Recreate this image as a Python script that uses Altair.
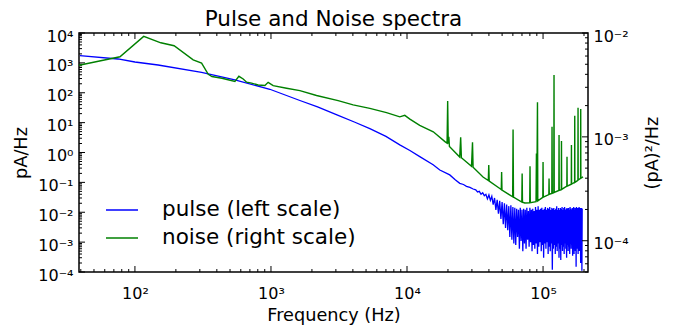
import altair as alt
import pandas as pd

FONT = "DejaVu Sans"
W, H = 509, 239

# ---------------- data ----------------
# pulse spectrum (left scale, pA/Hz): smooth part
pulse_freq_smooth = [39.4, 75, 100, 148, 309, 543, 981, 1631, 2200, 3118, 4100, 5330,
                     7000, 8850, 10500, 12410, 15560, 17420, 20620, 22500, 24420,
                     26000, 27360, 29000, 30620]
pulse_val_smooth = [1740, 1350, 1070, 850, 485, 268, 131, 55, 33.5, 17.5, 10.5, 6.3,
                    3.45, 1.8, 1.17, 0.73, 0.39, 0.26, 0.178, 0.125, 0.093,
                    0.085, 0.074, 0.068, 0.060]
# pulse spectrum: noisy high-frequency part (frequencies in kHz)
pulse_khz_noisy = [32, 33, 34, 35, 36, 37, 38, 39, 40, 41,
                   42, 43, 44, 45, 46, 47, 48, 49, 50, 51,
                   52, 53, 54, 55, 56, 57, 58, 59, 60, 61,
                   62, 63, 64, 65, 66, 67, 68, 69, 70, 71,
                   72, 73, 74, 75, 76, 77, 78, 79, 80, 81,
                   82, 83, 84, 85, 86, 87, 88, 89, 90, 91,
                   92, 93, 94, 95, 96, 97, 98, 99, 100, 101,
                   102, 103, 104, 105, 106, 107, 108, 109, 110, 111,
                   112, 113, 114, 115, 116, 117, 118, 119, 120, 121,
                   122, 123, 124, 125, 126, 127, 128, 129, 130, 131,
                   132, 133, 134, 135, 136, 137, 138, 139, 140, 141,
                   142, 143, 144, 145, 146, 147, 148, 149, 150, 151,
                   152, 153, 154, 155, 156, 157, 158, 159, 160, 161,
                   162, 163, 164, 165, 166, 167, 168, 169, 170, 171,
                   172, 173, 174, 175, 176, 177, 178, 179, 180, 181,
                   182, 183, 184, 185, 186, 187, 188, 189, 190, 191,
                   192, 193, 194]
pulse_val_noisy = [0.056, 0.048, 0.050, 0.040, 0.045, 0.036, 0.040, 0.028, 0.038, 0.025,
                   0.034, 0.018, 0.030, 0.012, 0.026, 0.009, 0.024, 0.006, 0.022, 0.004,
                   0.020, 0.003, 0.018, 0.0025, 0.016, 0.0015, 0.017, 0.0012, 0.015, 0.0009,
                   0.014, 0.0008, 0.013, 0.0015, 0.012, 0.0006, 0.014, 0.0011, 0.012, 0.0005,
                   0.013, 0.0009, 0.012, 0.0006, 0.014, 0.0012, 0.011, 0.0007, 0.014, 0.0010,
                   0.012, 0.0005, 0.013, 0.0008, 0.011, 0.0006, 0.015, 0.0009, 0.012, 0.0004,
                   0.016, 0.0007, 0.012, 0.0010, 0.013, 0.0005, 0.014, 0.0008, 0.012, 0.0003,
                   0.013, 0.0009, 0.015, 0.0006, 0.012, 0.0010, 0.014, 0.0004, 0.013, 0.0007,
                   0.015, 0.0005, 0.012, 0.0009, 0.014, 0.00012, 0.013, 0.0006, 0.014, 0.0008,
                   0.012, 0.0004, 0.013, 0.0007, 0.016, 0.0005, 0.012, 0.0009, 0.014, 0.0003,
                   0.012, 0.0006, 0.014, 0.00025, 0.013, 0.0008, 0.015, 0.0005, 0.012, 0.0007,
                   0.014, 0.0004, 0.015, 0.0009, 0.012, 0.0006, 0.013, 0.0003, 0.014, 0.0008,
                   0.013, 0.0005, 0.014, 0.0007, 0.012, 0.0004, 0.015, 0.0009, 0.013, 0.0006,
                   0.012, 0.0008, 0.014, 0.00035, 0.013, 0.0006, 0.015, 0.0004, 0.012, 0.0007,
                   0.014, 0.0005, 0.013, 0.00015, 0.015, 0.0006, 0.012, 0.0009, 0.014, 0.0004,
                   0.013, 0.0007, 0.015, 0.0005, 0.012, 0.0008, 0.014, 0.0002, 0.013, 0.0006,
                   0.014, 0.00011, 0.013]

# noise spectrum (right scale, (pA)^2/Hz)
noise_freq = [38.8, 77.6, 116, 155, 194, 268, 309, 346, 368, 436, 543, 581, 625, 662, 720,
              805, 902, 953, 1038, 1302, 1631, 2163, 3117, 4017, 5330, 7068, 8850, 9630,
              10500, 12400, 15600, 19000, 19700, 19900, 20100, 20300, 20500, 24400, 24800,
              25100, 29800, 30300, 30600, 36200, 39600, 39900, 40200, 48100, 49300, 49600,
              49900, 59800, 60200, 60600, 69800, 70200, 70600, 73400, 79800, 80200, 80600,
              88800, 89400, 89900, 91000, 91500, 99600, 100000, 100400, 110300, 110700,
              111100, 116000, 116400, 116900, 120000, 120400, 120800, 130700, 131100, 131500,
              136200, 136600, 137000, 149600, 150000, 150400, 161300, 161700, 162100, 170600,
              171000, 171400, 180400, 180800, 181200, 188800, 189200, 189600, 196800]
noise_val = [4.89e-3, 5.9e-3, 9.27e-3, 8.05e-3, 7.54e-3, 5.52e-3, 5.13e-3, 4.0e-3, 3.81e-3,
             3.67e-3, 3.42e-3, 3.83e-3, 3.61e-3, 3.36e-3, 3.29e-3, 3.16e-3, 3.12e-3, 3.35e-3,
             3.11e-3, 2.94e-3, 2.79e-3, 2.5e-3, 2.23e-3, 2.03e-3, 1.88e-3, 1.71e-3, 1.56e-3,
             1.61e-3, 1.48e-3, 1.29e-3, 1.12e-3, 9.0e-4, 8.7e-4, 2.22e-3, 8.6e-4, 1.0e-3,
             8.1e-4, 6.4e-4, 9.9e-4, 6.3e-4, 5.2e-4, 8.85e-4, 5.1e-4, 4.11e-4, 3.8e-4, 5.35e-4,
             3.75e-4, 3.18e-4, 3.1e-4, 4.6e-4, 3.08e-4, 2.65e-4, 1.18e-3, 2.63e-4, 2.36e-4,
             4.43e-4, 2.35e-4, 2.31e-4, 2.32e-4, 5.22e-4, 2.32e-4, 2.38e-4, 6.93e-4, 2.4e-4,
             2.15e-3, 2.42e-4, 2.62e-4, 5.74e-4, 2.63e-4, 2.78e-4, 3.97e-4, 2.8e-4, 2.85e-4,
             1.25e-3, 2.86e-4, 2.9e-4, 3.95e-3, 2.92e-4, 3.05e-4, 1.04e-3, 3.06e-4, 3.1e-4,
             9.1e-4, 3.12e-4, 3.35e-4, 6.43e-4, 3.36e-4, 3.5e-4, 8.34e-4, 3.51e-4, 3.64e-4,
             1.6e-3, 3.65e-4, 3.82e-4, 1.91e-3, 3.84e-4, 3.98e-4, 1.85e-3, 4.0e-4, 4.11e-4]

series_names = ["pulse (left scale)", "noise (right scale)"]
series_colors = ["#0000ff", "#008000"]

# axis ticks
x_major = [1e2, 1e3, 1e4, 1e5]
left_major = [1e-4, 1e-3, 1e-2, 1e-1, 1e0, 1e1, 1e2, 1e3, 1e4]
right_major = [1e-4, 1e-3, 1e-2]
mantissas = [2, 3, 4, 5, 6, 7, 8, 9]
x_dom = [38.8, 2.14e5]
yl_dom = [1e-4, 1e4]
yr_dom = [5e-5, 1e-2]
x_minor = [m * d for d in [1e1, 1e2, 1e3, 1e4, 1e5] for m in mantissas if x_dom[0] <= m * d <= x_dom[1]]
left_minor = [m * d for d in [1e-4, 1e-3, 1e-2, 1e-1, 1e0, 1e1, 1e2, 1e3] for m in mantissas]
right_minor = [m * d for d in [1e-5, 1e-4, 1e-3] for m in mantissas if yr_dom[0] <= m * d <= yr_dom[1]]

# ---------------- chart ----------------
pulse_df = pd.DataFrame({"freq": pulse_freq_smooth + [k * 1000 for k in pulse_khz_noisy],
                         "val": pulse_val_smooth + pulse_val_noisy,
                         "series": series_names[0]})
noise_df = pd.DataFrame({"freq": noise_freq, "val": noise_val, "series": series_names[1]})

E = "round(log(datum.value)/LN10)"
sup = ("'10' + (" + E + " < 0 ? '\u207b' : '') + substring('\u2070\u00b9\u00b2\u00b3\u2074\u2075\u2076\u2077\u2078\u2079', abs("
       + E + "), abs(" + E + ") + 1)")

x_scale = alt.Scale(type="log", domain=x_dom, nice=False)
yl_scale = alt.Scale(type="log", domain=yl_dom, nice=False)
yr_scale = alt.Scale(type="log", domain=yr_dom, nice=False)

x_axis = alt.Axis(values=x_major, labelExpr=sup, title="Frequency (Hz)", ticks=False, tickSize=0,
                  domain=False, grid=False, labelFont=FONT, labelFontSize=16, labelColor="black",
                  labelPadding=26, labelBaseline="alphabetic", titleFont=FONT, titleFontSize=17.7,
                  titleFontWeight="normal", titleColor="black", titleX=W / 2, titleY=48,
                  titleBaseline="alphabetic", titleAlign="center")
yl_axis = alt.Axis(values=left_major, labelExpr=sup, title="pA/Hz", orient="left", ticks=False,
                   tickSize=0, domain=False, grid=False, labelFont=FONT, labelFontSize=16,
                   labelColor="black", labelPadding=6, labelOffset=3, labelBaseline="middle",
                   titleFont=FONT, titleFontSize=17.7, titleFontWeight="normal", titleColor="black",
                   titleAngle=270, titleX=-53, titleY=H / 2, titleBaseline="alphabetic",
                   titleAlign="center")
yr_axis = alt.Axis(values=right_major, labelExpr=sup, title="(pA)\u00b2/Hz", orient="right",
                   ticks=False, tickSize=0, domain=False, grid=False, labelFont=FONT,
                   labelFontSize=16, labelColor="black", labelPadding=5, labelOffset=3,
                   labelBaseline="middle", titleFont=FONT, titleFontSize=17.7,
                   titleFontWeight="normal", titleColor="black", titleAngle=270, titleX=69,
                   titleY=H / 2, titleBaseline="alphabetic", titleAlign="center")

legend = alt.Legend(orient="none", legendX=26, legendY=160, title=None, symbolType="stroke",
                    symbolSize=1024, symbolStrokeWidth=1.5, labelFont=FONT, labelFontSize=21.5,
                    labelColor="black", labelOffset=23, labelLimit=500, rowPadding=-1, padding=0)
color = alt.Color("series:N", scale=alt.Scale(domain=series_names, range=series_colors),
                  legend=legend)

X = alt.X("freq:Q", scale=x_scale, axis=x_axis)
YL = alt.Y("val:Q", scale=yl_scale, axis=yl_axis)
YR = alt.Y("val:Q", scale=yr_scale, axis=yr_axis)

pulse_line = alt.Chart(pulse_df).mark_line(strokeWidth=1.3, clip=True).encode(x=X, y=YL, color=color)
noise_line = alt.Chart(noise_df).mark_line(strokeWidth=1.4, clip=True).encode(x=X, y=YR, color=color)


def xticks(vals, length):
    df = pd.DataFrame({"freq": vals})
    bottom = alt.Chart(df).mark_rule(color="black", strokeWidth=1).encode(
        x=X, y=alt.value(H), y2=alt.value(H - length))
    top = alt.Chart(df).mark_rule(color="black", strokeWidth=1).encode(
        x=X, y=alt.value(0), y2=alt.value(length))
    return [bottom, top]


def yticks(vals, length, Y, side):
    df = pd.DataFrame({"val": vals})
    if side == "left":
        return alt.Chart(df).mark_rule(color="black", strokeWidth=1).encode(
            y=Y, x=alt.value(0), x2=alt.value(length))
    return alt.Chart(df).mark_rule(color="black", strokeWidth=1).encode(
        y=Y, x=alt.value(W), x2=alt.value(W - length))


left_group = alt.layer(pulse_line, *xticks(x_major, 6), *xticks(x_minor, 3),
                       yticks(left_major, 6, YL, "left"), yticks(left_minor, 3, YL, "left"))
right_group = alt.layer(noise_line, yticks(right_major, 6, YR, "right"),
                        yticks(right_minor, 3, YR, "right"))

chart = alt.layer(left_group, right_group).resolve_scale(y="independent").properties(
    width=W, height=H,
    autosize=alt.AutoSizeParams(type="none"),
    padding={"left": 79, "top": 33, "right": 85, "bottom": 55},
    title=alt.TitleParams(text="Pulse and Noise spectra", font=FONT, fontSize=21.5,
                          fontWeight="normal", color="black", baseline="alphabetic",
                          offset=-19, frame="group", anchor="middle"),
    background="white",
).configure_view(stroke="black", strokeWidth=1.5)

chart.save("out.html", embed_options={"renderer": "svg", "actions": False})
